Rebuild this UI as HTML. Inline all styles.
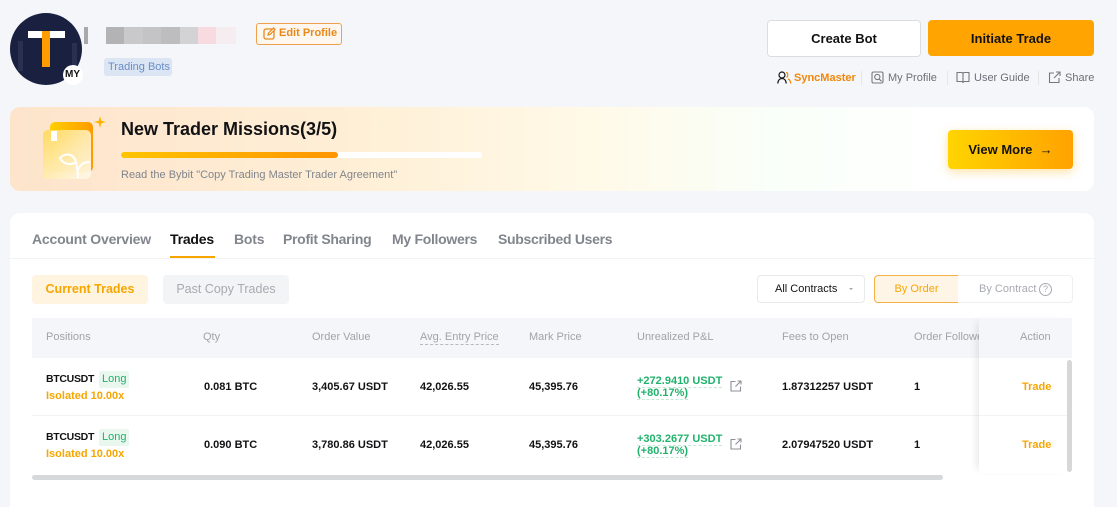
<!DOCTYPE html>
<html style="width:1117px;height:507px;overflow:hidden"><head><meta charset="utf-8">
<style>
*{margin:0;padding:0;box-sizing:border-box}
html,body{width:1117px;height:507px;overflow:hidden}
body{background:#f5f6fa;font-family:"Liberation Sans",Arial,sans-serif;position:relative;color:#121214}
.a{position:absolute;white-space:nowrap}
.b{font-weight:bold}
.hd{font-size:11px;color:#a0a3a8;top:331px}
.cell{font-size:11px;font-weight:bold;color:#121214}
.sym{font-size:10.5px;font-weight:bold;color:#121214;letter-spacing:-0.3px}
</style></head><body>

<!-- avatar -->
<div class="a" style="left:10px;top:13px;width:72px;height:72px;border-radius:50%;background:#1a2140;overflow:hidden">
  <div class="a" style="left:8px;top:28px;width:5px;height:30px;background:#2a3150"></div>
  <div class="a" style="left:62px;top:30px;width:5px;height:30px;background:#2a3150"></div>
  <div class="a" style="left:18px;top:18px;width:37px;height:7px;background:#fff"></div>
  <div class="a" style="left:32px;top:18px;width:8px;height:36px;background:#ff9c00"></div>
</div>
<div class="a" style="left:63px;top:65px;width:20px;height:20px;border-radius:50%;background:#fff"></div>
<div class="a b" style="left:65px;top:69px;font-size:10px;color:#121214">MY</div>

<!-- blurred name -->
<div class="a" style="left:84px;top:27px;width:4px;height:17px;background:#a9a9ac"></div>
<div class="a" style="left:106px;top:27px;width:18px;height:17px;background:#b3b3b6"></div>
<div class="a" style="left:124px;top:27px;width:19px;height:17px;background:#c9c9cb"></div>
<div class="a" style="left:143px;top:27px;width:18px;height:17px;background:#c4c4c6"></div>
<div class="a" style="left:161px;top:27px;width:19px;height:17px;background:#bdbdbf"></div>
<div class="a" style="left:180px;top:27px;width:18px;height:17px;background:#d3d3d5"></div>
<div class="a" style="left:198px;top:27px;width:18px;height:17px;background:#f8dbe0"></div>
<div class="a" style="left:216px;top:27px;width:20px;height:17px;background:#f6edf1"></div>

<!-- Edit profile -->
<div class="a" style="left:256px;top:23px;width:86px;height:22px;border:1px solid #eea04a;border-radius:3px;background:#fdf7f0"></div>
<svg class="a" style="left:263px;top:27px" width="13" height="13" viewBox="0 0 13 13"><rect x="1" y="2" width="10" height="10" rx="2" fill="none" stroke="#e8891c" stroke-width="1.3"/><path d="M5 8 L5.5 6 L10.5 1 L12 2.5 L7 7.5 Z" fill="#fdf7f0" stroke="#e8891c" stroke-width="1.2"/></svg>
<div class="a b" style="left:279px;top:27px;font-size:11px;color:#e8891c">Edit Profile</div>

<!-- Trading Bots tag -->
<div class="a" style="left:104px;top:58px;width:68px;height:18px;border-radius:3px;background:#dbe5f3"></div>
<div class="a" style="left:108px;top:61px;font-size:11px;color:#6a8ec6">Trading Bots</div>

<!-- Buttons top-right -->
<div class="a" style="left:767px;top:20px;width:154px;height:37px;border:1px solid #dcdde0;border-radius:4px;background:#fff"></div>
<div class="a b" style="left:767px;top:31px;width:154px;text-align:center;font-size:13px">Create Bot</div>
<div class="a" style="left:928px;top:20px;width:166px;height:36px;border-radius:4px;background:#ffa400"></div>
<div class="a b" style="left:928px;top:31px;width:166px;text-align:center;font-size:13px">Initiate Trade</div>

<!-- links -->
<svg class="a" style="left:777px;top:71px" width="15" height="13" viewBox="0 0 15 13"><circle cx="5" cy="4" r="3" fill="none" stroke="#121214" stroke-width="1.2"/><path d="M0.8 12.5 C1 9 3 7.5 5 7.5 C7 7.5 9 9 9.2 12.5" fill="none" stroke="#121214" stroke-width="1.2"/><path d="M9 1.3 C11 1.5 11.5 5.5 9.5 6.5 M11 8 C12.5 8.5 13.5 10 13.8 12.5" fill="none" stroke="#f0880c" stroke-width="1.2"/></svg>
<div class="a b" style="left:794px;top:72px;font-size:11px;color:#f0880c">SyncMaster</div>
<div class="a" style="left:861px;top:71px;width:1px;height:14px;background:#e6e6e8"></div>
<svg class="a" style="left:871px;top:71px" width="13" height="13" viewBox="0 0 13 13"><rect x="1" y="1" width="11" height="11" rx="1.5" fill="none" stroke="#75797f" stroke-width="1.1"/><circle cx="6.3" cy="6" r="2.6" fill="none" stroke="#75797f" stroke-width="1.1"/><path d="M8.2 8 L10.5 10.3" stroke="#75797f" stroke-width="1.1"/></svg>
<div class="a" style="left:888px;top:72px;font-size:11px;color:#6c7077">My Profile</div>
<div class="a" style="left:947px;top:71px;width:1px;height:14px;background:#e6e6e8"></div>
<svg class="a" style="left:956px;top:71px" width="14" height="13" viewBox="0 0 14 13"><path d="M1 1.5 H5.5 C6.5 1.5 7 2.2 7 3 V12 C7 11 6.3 10.5 5.5 10.5 H1 Z M13 1.5 H8.5 C7.5 1.5 7 2.2 7 3 V12 C7 11 7.7 10.5 8.5 10.5 H13 Z" fill="none" stroke="#75797f" stroke-width="1.1"/></svg>
<div class="a" style="left:974px;top:72px;font-size:11px;color:#6c7077">User Guide</div>
<div class="a" style="left:1038px;top:71px;width:1px;height:14px;background:#e6e6e8"></div>
<svg class="a" style="left:1048px;top:71px" width="13" height="13" viewBox="0 0 13 13"><path d="M6 2 H1.5 V11.5 H11 V7" fill="none" stroke="#75797f" stroke-width="1.1"/><path d="M8 1 H12 V5 M12 1 L6 7" fill="none" stroke="#75797f" stroke-width="1.1"/></svg>
<div class="a" style="left:1065px;top:72px;font-size:11px;color:#6c7077">Share</div>

<!-- Banner -->
<div class="a" style="left:10px;top:107px;width:1084px;height:84px;border-radius:10px;background:linear-gradient(90deg,#fde4cb 0%,#fff0d8 35%,#fffae9 55%,#f9fff9 70%,#ffffff 88%)"></div>
<div class="a" style="left:50px;top:122px;width:43px;height:50px;border-radius:5px;background:linear-gradient(90deg,#ffd000,#ff9a00)"></div>
<div class="a" style="left:43px;top:130px;width:48px;height:49px;border-radius:5px;background:linear-gradient(135deg,#ffd95a 0%,#ffe9a8 45%,#fff8ec 100%);opacity:.95"></div>
<div class="a" style="left:51px;top:131px;width:6px;height:10px;background:#fff"></div>
<svg class="a" style="left:58px;top:150px" width="40" height="30" viewBox="0 0 40 30"><path d="M2 8 C8 2 16 4 18 12 C12 16 5 14 2 8 Z" fill="none" stroke="#fff" stroke-width="2"/><path d="M18 12 C19 18 20 22 20 28 M20 20 C22 14 27 12 32 12" fill="none" stroke="#fff" stroke-width="2"/></svg>
<svg class="a" style="left:94px;top:116px" width="12" height="12" viewBox="0 0 12 12"><path d="M6 0 L7.3 4.7 L12 6 L7.3 7.3 L6 12 L4.7 7.3 L0 6 L4.7 4.7 Z" fill="#ffb400"/></svg>
<div class="a b" style="left:121px;top:119px;font-size:18px;color:#121214">New Trader Missions(3/5)</div>
<div class="a" style="left:121px;top:152px;width:361px;height:6px;border-radius:3px;background:#fff"></div>
<div class="a" style="left:121px;top:152px;width:217px;height:6px;border-radius:3px;background:linear-gradient(90deg,#ffc400,#ff9500)"></div>
<div class="a" style="left:121px;top:169px;font-size:11px;color:#81858c">Read the Bybit "Copy Trading Master Trader Agreement"</div>
<div class="a" style="left:948px;top:130px;width:125px;height:39px;border-radius:4px;background:linear-gradient(90deg,#ffd400,#ffa200);box-shadow:0 3px 10px rgba(255,176,0,.35)"></div>
<div class="a b" style="left:948px;top:142px;width:125px;text-align:center;font-size:13px">View More &nbsp;→</div>

<!-- Main card -->
<div class="a" style="left:10px;top:213px;width:1084px;height:294px;border-radius:10px 10px 0 0;background:#fff"></div>
<div class="a b" style="left:32px;top:231px;font-size:14px;color:#81858c;letter-spacing:-0.2px">Account Overview</div>
<div class="a b" style="left:170px;top:231px;font-size:14px;color:#121214;letter-spacing:-0.2px">Trades</div>
<div class="a b" style="left:234px;top:231px;font-size:14px;color:#81858c;letter-spacing:-0.2px">Bots</div>
<div class="a b" style="left:283px;top:231px;font-size:14px;color:#81858c;letter-spacing:-0.3px">Profit Sharing</div>
<div class="a b" style="left:392px;top:231px;font-size:14px;color:#81858c;letter-spacing:-0.3px">My Followers</div>
<div class="a b" style="left:498px;top:231px;font-size:14px;color:#81858c;letter-spacing:-0.3px">Subscribed Users</div>
<div class="a" style="left:10px;top:258px;width:1084px;height:1px;background:#f2f3f5"></div>
<div class="a" style="left:170px;top:256px;width:45px;height:2px;background:#f7a600"></div>

<div class="a" style="left:32px;top:275px;width:116px;height:29px;border-radius:4px;background:#fff4e0"></div>
<div class="a b" style="left:32px;top:282px;width:116px;text-align:center;font-size:12.5px;color:#f7a600">Current Trades</div>
<div class="a" style="left:163px;top:275px;width:126px;height:29px;border-radius:4px;background:#f3f4f6"></div>
<div class="a" style="left:163px;top:282px;width:126px;text-align:center;font-size:12.5px;color:#a7aab0">Past Copy Trades</div>

<div class="a" style="left:757px;top:275px;width:108px;height:28px;border:1px solid #e8e9eb;border-radius:4px;background:#fff"></div>
<div class="a" style="left:775px;top:283px;font-size:11px;color:#121214">All Contracts</div>
<div class="a" style="left:849px;top:288px;width:0;height:0;border-left:2px solid transparent;border-right:2px solid transparent;border-top:2px solid #a0a3a8"></div>
<div class="a" style="left:874px;top:275px;width:85px;height:28px;border:1px solid #f7b043;border-radius:4px 0 0 4px;background:#fff5e6"></div>
<div class="a" style="left:874px;top:283px;width:85px;text-align:center;font-size:11px;color:#f7a600">By Order</div>
<div class="a" style="left:958px;top:275px;width:115px;height:28px;border:1px solid #eeeff1;border-left:none;border-radius:0 4px 4px 0;background:#fff"></div>
<div class="a" style="left:979px;top:283px;font-size:11px;color:#a7aab0">By Contract</div>
<div class="a" style="left:1039px;top:283px;width:13px;height:13px;border:1px solid #a7aab0;border-radius:50%;font-size:9px;color:#a7aab0;text-align:center;line-height:11px">?</div>

<!-- table header -->
<div class="a" style="left:32px;top:318px;width:1040px;height:40px;background:#f5f6fa"></div>
<div class="a hd" style="left:46px">Positions</div>
<div class="a hd" style="left:203px">Qty</div>
<div class="a hd" style="left:312px">Order Value</div>
<div class="a hd" style="left:420px;border-bottom:1px dashed #b5b8bd;padding-bottom:1px">Avg. Entry Price</div>
<div class="a hd" style="left:529px">Mark Price</div>
<div class="a hd" style="left:637px">Unrealized P&amp;L</div>
<div class="a hd" style="left:782px">Fees to Open</div>
<div class="a hd" style="left:914px">Order Followers</div>

<!-- rows -->
<div class="a" style="left:32px;top:415px;width:1040px;height:1px;background:#f2f3f5"></div>

<div class="a sym" style="left:46px;top:373px">BTCUSDT</div>
<div class="a" style="left:99px;top:371px;width:30px;height:17px;border-radius:2px;background:#e9f7ef"></div>
<div class="a" style="left:102px;top:373px;font-size:11px;color:#20b26c">Long</div>
<div class="a cell" style="left:46px;top:390px;color:#f7a600">Isolated 10.00x</div>
<div class="a cell" style="left:204px;top:381px">0.081 BTC</div>
<div class="a cell" style="left:312px;top:381px">3,405.67 USDT</div>
<div class="a cell" style="left:420px;top:381px">42,026.55</div>
<div class="a cell" style="left:529px;top:381px">45,395.76</div>
<div class="a cell" style="left:637px;top:375px;color:#20b26c;border-bottom:1px dashed #c4e8d4">+272.9410 USDT</div>
<div class="a cell" style="left:637px;top:387px;color:#20b26c;border-bottom:1px dashed #c4e8d4">(+80.17%)</div>
<svg class="a" style="left:730px;top:380px" width="12" height="12" viewBox="0 0 12 12"><path d="M5.5 1.5 H1 V11 H10.5 V6.5" fill="none" stroke="#8c9097" stroke-width="1.1"/><path d="M7.5 1 H11 V4.5 M11 1 L5.5 6.5" fill="none" stroke="#8c9097" stroke-width="1.1"/></svg>
<div class="a cell" style="left:782px;top:381px">1.87312257 USDT</div>
<div class="a cell" style="left:914px;top:381px">1</div>

<div class="a sym" style="left:46px;top:431px">BTCUSDT</div>
<div class="a" style="left:99px;top:429px;width:30px;height:17px;border-radius:2px;background:#e9f7ef"></div>
<div class="a" style="left:102px;top:431px;font-size:11px;color:#20b26c">Long</div>
<div class="a cell" style="left:46px;top:448px;color:#f7a600">Isolated 10.00x</div>
<div class="a cell" style="left:204px;top:439px">0.090 BTC</div>
<div class="a cell" style="left:312px;top:439px">3,780.86 USDT</div>
<div class="a cell" style="left:420px;top:439px">42,026.55</div>
<div class="a cell" style="left:529px;top:439px">45,395.76</div>
<div class="a cell" style="left:637px;top:433px;color:#20b26c;border-bottom:1px dashed #c4e8d4">+303.2677 USDT</div>
<div class="a cell" style="left:637px;top:445px;color:#20b26c;border-bottom:1px dashed #c4e8d4">(+80.17%)</div>
<svg class="a" style="left:730px;top:438px" width="12" height="12" viewBox="0 0 12 12"><path d="M5.5 1.5 H1 V11 H10.5 V6.5" fill="none" stroke="#8c9097" stroke-width="1.1"/><path d="M7.5 1 H11 V4.5 M11 1 L5.5 6.5" fill="none" stroke="#8c9097" stroke-width="1.1"/></svg>
<div class="a cell" style="left:782px;top:439px">2.07947520 USDT</div>
<div class="a cell" style="left:914px;top:439px">1</div>

<!-- fixed action column -->
<div class="a" style="left:979px;top:318px;width:93px;height:155px;background:#fff;box-shadow:-6px 0 8px -4px rgba(0,0,0,0.10)">
  <div class="a" style="left:0;top:0;width:93px;height:40px;background:#f5f6fa"></div>
  <div class="a" style="left:0;top:97px;width:93px;height:1px;background:#f2f3f5"></div>
  <div class="a" style="left:41px;top:13px;font-size:11px;color:#a0a3a8">Action</div>
  <div class="a b" style="left:43px;top:63px;font-size:11px;color:#f7a600">Trade</div>
  <div class="a b" style="left:43px;top:121px;font-size:11px;color:#f7a600">Trade</div>
  <div class="a" style="left:88px;top:42px;width:5px;height:112px;border-radius:3px;background:#d6d7d9"></div>
</div>

<!-- horizontal scrollbar -->
<div class="a" style="left:32px;top:475px;width:911px;height:5px;border-radius:3px;background:#d7d8da"></div>

</body></html>
